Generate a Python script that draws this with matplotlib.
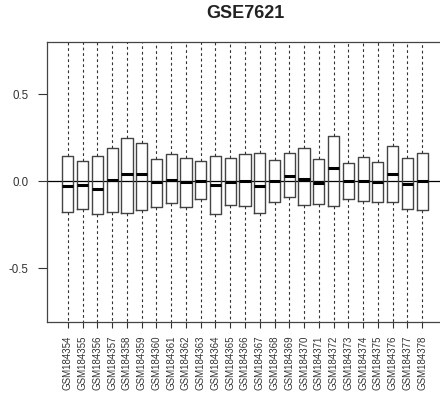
import matplotlib
matplotlib.use("Agg")
import matplotlib.pyplot as plt

samples = ["GSM1843%02d" % i for i in range(54, 79)]
q3 = [0.142, 0.117, 0.144, 0.188, 0.250, 0.221, 0.127, 0.156, 0.135, 0.115,
      0.142, 0.135, 0.154, 0.160, 0.119, 0.160, 0.190, 0.129, 0.258, 0.102,
      0.138, 0.111, 0.202, 0.131, 0.163]
med = [-0.029, -0.021, -0.048, 0.006, 0.042, 0.042, -0.004, 0.008, -0.004, -0.002,
       -0.025, -0.004, 0.000, -0.027, 0.000, 0.027, 0.010, -0.008, 0.075, 0.000,
       0.000, -0.006, 0.042, -0.017, 0.000]
q1 = [-0.177, -0.158, -0.190, -0.175, -0.181, -0.165, -0.148, -0.127, -0.148, -0.102,
      -0.190, -0.136, -0.144, -0.185, -0.121, -0.090, -0.138, -0.133, -0.142, -0.104,
      -0.117, -0.121, -0.121, -0.158, -0.167]
whislo = [-1.2] * 25
whishi = [1.2] * 25

plt.rcParams['font.family'] = ['Liberation Sans', 'DejaVu Sans']

fig = plt.figure(figsize=(4.4, 3.94), dpi=100)
ax = fig.add_axes([47/440, 72/394, 396/440, 280/394])

stats = []
for i, s in enumerate(samples):
    stats.append(dict(label=s, whislo=whislo[i], q1=q1[i], med=med[i], q3=q3[i],
                      whishi=whishi[i], fliers=[]))

ax.bxp(stats, positions=list(range(1, 26)), widths=0.75, showfliers=False,
       boxprops=dict(color='#444444', linewidth=1.0),
       medianprops=dict(color='black', linewidth=2.2),
       whiskerprops=dict(color='#333333', linewidth=0.8, linestyle=(0, (2.5, 2.5))),
       capprops=dict(color='#333333', linewidth=0.8))

ax.axhline(0, color='black', linewidth=0.9, zorder=0.5)

ax.set_xlim(-0.42, 26.42)
ax.set_ylim(-0.81, 0.80)
ax.set_yticks([-0.5, 0.0, 0.5])
ax.set_yticklabels(['-0.5', '0.0', '0.5'])
ax.set_xticks(range(1, 26))
ax.set_xticklabels(samples, rotation=90, fontsize=7, color='#333333')
ax.tick_params(axis='y', length=6.5, pad=7, labelsize=8.3, colors='#333333', width=0.8)
ax.tick_params(axis='x', length=4, pad=5.5, width=0.8, colors='#333333')
for sp in ax.spines.values():
    sp.set_color('#444444')
    sp.set_linewidth(0.9)

fig.suptitle('GSE7621', x=245/440, y=1 - 13/394, va='center',
             fontsize=13, fontweight='bold', color='#222222')

fig.savefig('out.png', dpi=100)
